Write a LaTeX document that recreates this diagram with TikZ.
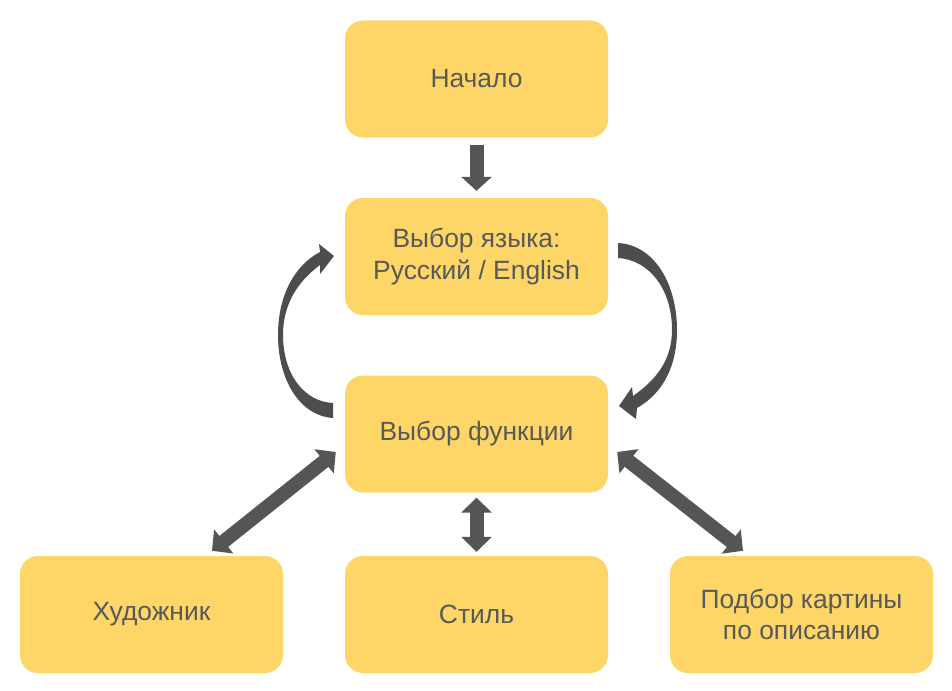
\documentclass[tikz,border=0pt]{standalone}
\usepackage{fontspec}
\setmainfont{Liberation Sans}
\usetikzlibrary{arrows.meta,calc}
\definecolor{boxfill}{HTML}{FDD667}
\definecolor{txt}{HTML}{595959}
\definecolor{arr}{HTML}{555555}
\definecolor{arrdark}{HTML}{4D4D4D}
\tikzset{
  box/.style={draw=none,fill=boxfill,rounded corners=18pt,minimum width=263pt,minimum height=117pt,
    text=txt,align=center,font=\fontsize{26.4}{31.5}\selectfont,inner sep=0pt},
  fat/.style={draw=arr,line width=14pt},
  onehead/.style={fat,-{Triangle[width=30pt,length=14pt]}},
  twohead/.style={fat,{Triangle[width=30pt,length=15pt]}-{Triangle[width=30pt,length=15pt]}},
}
\begin{document}
\begin{tikzpicture}[x=1pt,y=-1pt]
\useasboundingbox (0,0) rectangle (952,690);
\node[box] (start) at (476.5,79) {Начало};
\node[box] (lang) at (476.5,256.5) {Выбор языка:\\Русский / English};
\node[box] (func) at (476.5,434) {Выбор функции};
\node[box] (art) at (151.5,614.5) {Художник};
\node[box] (style) at (476.5,614.5) {Стиль};
\node[box] (pick) at (801.5,614.5) {Подбор картины\\по описанию};

\draw[onehead,shorten <=7pt,shorten >=7pt] (start.south) -- (lang.north);
\draw[twohead,shorten <=5pt,shorten >=4pt] (func.south) -- (style.north);

\coordinate (fl) at ($(func.west)+(-9,18)$);
\coordinate (al) at ($(art.north)+(60.5,-5)$);
\coordinate (fr) at ($(func.east)+(9,18)$);
\coordinate (pr) at ($(pick.north)+(-58.5,-5)$);
\draw[twohead] (fl) -- (al);
\draw[twohead] (fr) -- (pr);

% curved arrow, left: from function up to language
\fill[arrdark] (333,418) .. controls (300,416) and (278,380) .. (278,335)
  .. controls (278,295) and (295,265) .. (320,252)
  -- (319,244) -- (334,256) -- (320,274) -- (320,265)
  .. controls (297,282) and (283,305) .. (283,335)
  .. controls (283,375) and (305,402) .. (333,403) -- cycle;
% curved arrow, right: from language down to function
\fill[arrdark] (618,243) .. controls (655,245) and (677,285) .. (677,330)
  .. controls (677,370) and (660,395) .. (637,408)
  -- (636,419) -- (619,406) -- (632,387) -- (633,396)
  .. controls (656,380) and (672,360) .. (672,330)
  .. controls (672,290) and (650,260) .. (618,258) -- cycle;
\end{tikzpicture}
\end{document}
